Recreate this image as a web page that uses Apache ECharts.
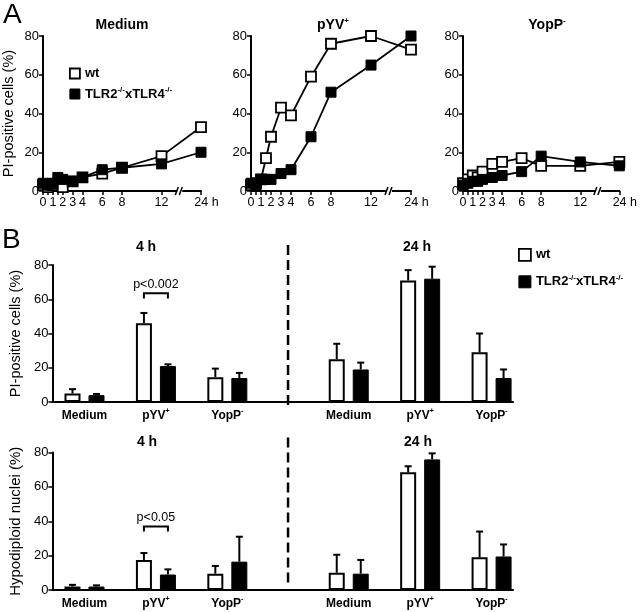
<!DOCTYPE html>
<html><head><meta charset="utf-8">
<script src="https://cdn.jsdelivr.net/npm/echarts@6/dist/echarts.min.js"></script>
<style>html,body{margin:0;padding:0;background:#fff}#c{width:640px;height:612px}</style>
</head><body><div id="c"></div>
<script>
// ---------- Panel A data (time course, % PI-positive cells) ----------
const times = [0, 0.5, 1, 1.5, 2, 3, 4, 6, 8, 12, 24];
const timeLabels = [0, 1, 2, 3, 4, 6, 8, 12, 24];
const panelTitles = ['Medium', 'pYV+', 'YopP-'];
const mediumWt  = [3, 2, 3, 4, 2, 5, 7, 9, 12, 18, 33];
const mediumTlr = [4, 3, 4, 7, 6, 5, 7, 11, 12, 14, 20];
const pyvWt     = [3, 4, 6, 17, 28, 43, 39, 59, 76, 80, 73];
const pyvTlr    = [4, 3, 6, 6, 6, 9, 11, 28, 51, 65, 80];
const yopWt     = [4, 6, 8, 7, 10, 14, 15, 17, 13, 13, 15];
const yopTlr    = [3, 4, 5, 5, 6, 7, 8, 10, 18, 15, 13];

// ---------- Panel B data ----------
const groups = ['Medium', 'pYV+', 'YopP-', 'Medium', 'pYV+', 'YopP-'];
const timeGroups = ['4 h', '24 h'];
const piWt      = [5, 46, 14.5, 25, 71, 29];
const piWtErr   = [2.5, 6, 5, 9, 6, 11];
const piTlr     = [4, 21, 14, 19, 72, 14];
const piTlrErr  = [0.7, 1, 3, 4, 7, 5];
const hypoWt     = [2, 17.5, 9.5, 10, 68.5, 19];
const hypoWtErr  = [1, 4, 4.5, 10.5, 3.5, 15];
const hypoTlr    = [2, 9, 16.5, 9.5, 76, 19.5];
const hypoTlrErr = [0.7, 3, 14.5, 8, 3.5, 7];
const pTests = [
  { panel: 0, group: 1, top: 63.5, leg: 60.5, text: 'p<0.002' },
  { panel: 1, group: 1, top: 37, leg: 34, text: 'p<0.05' }
];
const seriesNames = ['wt', 'TLR2-/-xTLR4-/-'];

// ---------- helpers ----------
const FONT = '"Liberation Sans", Arial, Helvetica, sans-serif';
function supRich(name, key) {
  const parts = name.split(/(-\/-|[+-]$)/);
  let s = '';
  parts.forEach((p, i) => { if (p === '') return; s += (i % 2 ? '{' + key + 's|' : '{' + key + '|') + p + '}'; });
  return s;
}
function richSet(key, size) {
  const o = {};
  o[key] = { fontWeight: 'bold', fontSize: size, lineHeight: size + 3, color: '#000', fontFamily: FONT };
  o[key + 's'] = { fontWeight: 'bold', fontSize: Math.round(size * 0.6), lineHeight: Math.round(size * 0.6), verticalAlign: 'top', color: '#000', fontFamily: FONT };
  return o;
}
const axisPosA = t => (t > 12 ? 16 : t);          // broken time axis: 24 h drawn after the break
const breakAt = 13.8;
const groupPos = i => i + 0.45 + (i >= 3 ? 0.7 : 0); // two time blocks on B x axis
const dividerPos = (groupPos(2) + groupPos(3)) / 2;
const BAR_W = 16, BAR_GAP = 8, HALF = (BAR_W + BAR_GAP) / 2;

const gridsA = [41, 251, 463].map(l => ({ left: l, top: 36, width: 160, height: 155 }));
const gridsB = [{ left: 41, top: 265, width: 472, height: 137 }, { left: 41, top: 452.5, width: 472, height: 137.5 }];

const xAxes = [], yAxes = [], series = [];
const dataA = [[mediumWt, mediumTlr], [pyvWt, pyvTlr], [yopWt, yopTlr]];

dataA.forEach((pair, g) => {
  xAxes.push({
    type: 'value', gridIndex: g, min: 0, max: 16,
    axisLine: { onZero: false, lineStyle: { color: '#000', width: 2 } },
    axisTick: { show: true, customValues: times.map(axisPosA), length: 4, lineStyle: { color: '#000', width: 1.5 } },
    axisLabel: {
      customValues: timeLabels.map(axisPosA), color: '#000', fontSize: 12.5, margin: 5, fontFamily: FONT,
      formatter: v => (v === 16 ? '{sp|}24 h' : String(v)),
      rich: { sp: { width: 11 } }
    },
    splitLine: { show: false }
  });
  yAxes.push({
    type: 'value', gridIndex: g, min: 0, max: 80, interval: 20,
    axisLine: { show: true, lineStyle: { color: '#000', width: 2 } },
    axisTick: { show: true, length: 4, lineStyle: { color: '#000', width: 1.5 } },
    axisLabel: { color: '#000', fontSize: 13, margin: 4, fontFamily: FONT },
    splitLine: { show: false },
    name: g === 0 ? 'PI-positive cells (%)' : '', nameLocation: 'middle', nameGap: 27, nameRotate: 90,
    nameTextStyle: { fontSize: 14.5, color: '#000', fontFamily: FONT }
  });
  pair.forEach((vals, k) => {
    series.push({
      type: 'line', name: seriesNames[k], xAxisIndex: g, yAxisIndex: g, clip: false,
      data: times.map((t, i) => [axisPosA(t), vals[i]]),
      symbol: 'rect', symbolSize: 10, showSymbol: true,
      lineStyle: { color: '#000', width: 1.8 },
      itemStyle: k === 0 ? { color: '#fff', borderColor: '#000', borderWidth: 1.8 } : { color: '#000', borderColor: '#000', borderWidth: 1 },
      z: k === 0 ? 3 : 4
    });
  });
  series.push({
    type: 'custom', xAxisIndex: g, yAxisIndex: g, data: [[breakAt, 0]], z: 6, silent: true,
    renderItem: (params, api) => {
      const p = api.coord([api.value(0), api.value(1)]);
      const x = p[0], y = p[1];
      return { type: 'group', children: [
        { type: 'rect', shape: { x: x - 2, y: y - 2, width: 5, height: 4 }, style: { fill: '#fff' } },
        { type: 'line', shape: { x1: x - 4, y1: y + 4, x2: x - 1, y2: y - 4 }, style: { stroke: '#000', lineWidth: 1.5 } },
        { type: 'line', shape: { x1: x, y1: y + 4, x2: x + 3, y2: y - 4 }, style: { stroke: '#000', lineWidth: 1.5 } }
      ] };
    }
  });
});

const dataB = [[piWt, piWtErr, piTlr, piTlrErr, 'PI-positive cells (%)'], [hypoWt, hypoWtErr, hypoTlr, hypoTlrErr, 'Hypodiploid nuclei (%)']];
dataB.forEach((d, p) => {
  const ai = 3 + p;
  xAxes.push({
    type: 'value', gridIndex: ai, min: 0, max: 6.45,
    axisLine: { onZero: false, lineStyle: { color: '#000', width: 2 } },
    axisTick: { show: false },
    axisLabel: {
      customValues: groups.map((_, i) => groupPos(i)), margin: 6,
      formatter: v => { const i = groups.findIndex((_, j) => Math.abs(groupPos(j) - v) < 1e-6); return i < 0 ? '' : supRich(groups[i], 'c'); },
      rich: richSet('c', 12)
    },
    splitLine: { show: false }
  });
  yAxes.push({
    type: 'value', gridIndex: ai, min: 0, max: 80, interval: 20,
    axisLine: { show: true, lineStyle: { color: '#000', width: 2 } },
    axisTick: { show: true, length: 4, lineStyle: { color: '#000', width: 1.5 } },
    axisLabel: { color: '#000', fontSize: 13, margin: 4, fontFamily: FONT },
    splitLine: { show: false },
    name: d[4], nameLocation: 'middle', nameGap: 27, nameRotate: 90,
    nameTextStyle: { fontSize: p === 0 ? 14.5 : 15, color: '#000', fontFamily: FONT }
  });
  [[d[0], d[1]], [d[2], d[3]]].forEach((vs, k) => {
    series.push({
      type: 'bar', name: seriesNames[k], xAxisIndex: ai, yAxisIndex: ai,
      data: vs[0].map((v, i) => [groupPos(i), v]),
      barWidth: BAR_W, barGap: (BAR_GAP / BAR_W * 100) + '%',
      itemStyle: k === 0 ? { color: '#fff', borderColor: '#000', borderWidth: 2 } : { color: '#000', borderColor: '#000', borderWidth: 1 },
      z: 2
    });
    series.push({
      type: 'custom', xAxisIndex: ai, yAxisIndex: ai, z: 5, silent: true,
      data: vs[0].map((v, i) => [groupPos(i), v, vs[1][i]]),
      renderItem: (params, api) => {
        const p0 = api.coord([api.value(0), api.value(1)]);
        const p1 = api.coord([api.value(0), api.value(1) + api.value(2)]);
        const cx = p0[0] + (k === 0 ? -HALF : HALF);
        return { type: 'group', children: [
          { type: 'line', shape: { x1: cx, y1: p0[1], x2: cx, y2: p1[1] }, style: { stroke: '#000', lineWidth: 2 } },
          { type: 'line', shape: { x1: cx - 3.5, y1: p1[1], x2: cx + 3.5, y2: p1[1] }, style: { stroke: '#000', lineWidth: 2 } }
        ] };
      }
    });
  });
  pTests.filter(t => t.panel === p).forEach(t => {
    series.push({
      type: 'custom', xAxisIndex: ai, yAxisIndex: ai, z: 5, silent: true,
      data: [[groupPos(t.group), t.top, t.leg]],
      renderItem: (params, api) => {
        const a = api.coord([api.value(0), api.value(1)]);
        const b = api.coord([api.value(0), api.value(2)]);
        const xl = a[0] - HALF, xr = a[0] + HALF;
        return { type: 'group', children: [
          { type: 'polyline', shape: { points: [[xl, b[1]], [xl, a[1]], [xr, a[1]], [xr, b[1]]] }, style: { stroke: '#000', lineWidth: 2, fill: null } },
          { type: 'text', style: { x: a[0], y: a[1] - 9, text: t.text, fill: '#000', font: '12.5px ' + FONT, align: 'center', verticalAlign: 'middle' } }
        ] };
      }
    });
  });
  series.push({
    type: 'custom', xAxisIndex: ai, yAxisIndex: ai, z: 5, silent: true,
    data: [[dividerPos]],
    renderItem: (params, api) => {
      const top = api.coord([api.value(0), 80]);
      const bot = api.coord([api.value(0), 0]);
      return { type: 'line', shape: { x1: top[0], y1: top[1] - (p === 0 ? 20 : 15), x2: top[0], y2: bot[1] + (p === 0 ? 3 : -7) },
        style: { stroke: '#000', lineWidth: 2.5, lineDash: [10, 5] } };
    }
  });
});

const titleStyle = (size, bold) => ({ fontSize: size, fontWeight: bold ? 'bold' : 'normal', color: '#000', fontFamily: FONT });
const titles = [
  { text: 'A', left: 3, top: 1, padding: 0, textStyle: titleStyle(28, false) },
  { text: 'B', left: 2, top: 226, padding: 0, textStyle: titleStyle(28, false) }
];
[122, 333, 547].forEach((x, i) => titles.push({
  text: supRich(panelTitles[i], 't'), left: x, top: 17, padding: 0, textAlign: 'center',
  textStyle: { rich: richSet('t', 14) }
}));
[[146, 240], [417, 240], [147, 435], [418, 435]].forEach((pt, i) => titles.push({
  text: timeGroups[i % 2], left: pt[0], top: pt[1], padding: 0, textAlign: 'center', textStyle: titleStyle(14, true)
}));

const legendData = [
  { name: seriesNames[0], icon: 'rect', itemStyle: { color: '#fff', borderColor: '#000', borderWidth: 1.8 } },
  { name: seriesNames[1], icon: 'rect', itemStyle: { color: '#000', borderColor: '#000', borderWidth: 1 } }
];
const legendCommon = {
  orient: 'vertical', selectedMode: false, data: legendData,
  formatter: n => supRich(n, 'l'),
  textStyle: { rich: richSet('l', 13) }
};

const chart = echarts.init(document.getElementById('c'), null, { renderer: 'canvas' });
chart.setOption({
  animation: false,
  backgroundColor: '#fff',
  textStyle: { fontFamily: FONT },
  title: titles,
  legend: [
    Object.assign({ left: 64, top: 62, itemWidth: 10, itemHeight: 10, itemGap: 6 }, legendCommon),
    Object.assign({ left: 513, top: 243, itemWidth: 12, itemHeight: 12, itemGap: 12 }, legendCommon)
  ],
  grid: gridsA.concat(gridsB),
  xAxis: xAxes,
  yAxis: yAxes,
  series: series
});
</script></body></html>
